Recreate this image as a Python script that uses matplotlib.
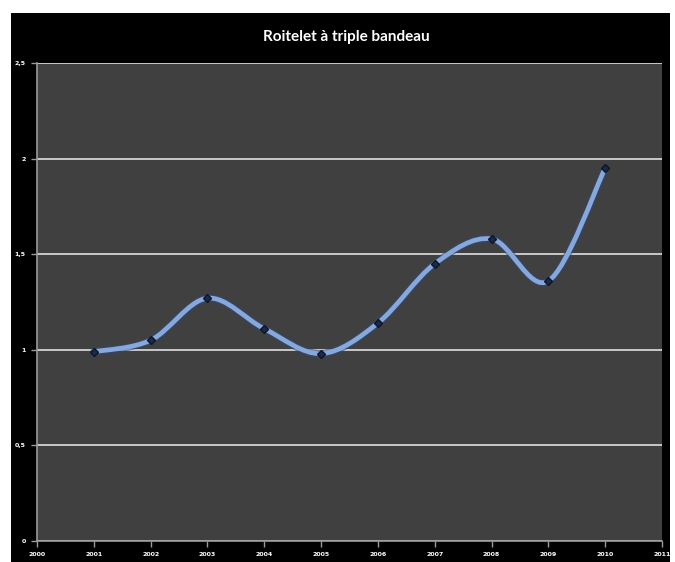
import numpy as np
import matplotlib.pyplot as plt
from matplotlib.path import Path
from matplotlib.patches import PathPatch, Rectangle
import matplotlib.patheffects as pe

years = [2001, 2002, 2003, 2004, 2005, 2006, 2007, 2008, 2009, 2010]
values = [0.99, 1.05, 1.27, 1.11, 0.98, 1.14, 1.45, 1.58, 1.36, 1.95]
title = "Roitelet à triple bandeau"
y_ticks = [0, 0.5, 1, 1.5, 2, 2.5]
y_labels = ["0", "0,5", "1", "1,5", "2", "2,5"]
x_ticks = list(range(2000, 2012))


def smooth_path(x, y, t=1 / 6):
    # Excel-like smoothed line: Catmull-Rom converted to cubic Bezier segments
    x = np.asarray(x, float)
    y = np.asarray(y, float)
    verts = [(x[0], y[0])]
    codes = [Path.MOVETO]
    n = len(x)
    for i in range(n - 1):
        i0 = max(i - 1, 0)
        i3 = min(i + 2, n - 1)
        c1 = (x[i] + (x[i + 1] - x[i0]) * t, y[i] + (y[i + 1] - y[i0]) * t)
        c2 = (x[i + 1] - (x[i3] - x[i]) * t, y[i + 1] - (y[i3] - y[i]) * t)
        verts += [c1, c2, (x[i + 1], y[i + 1])]
        codes += [Path.CURVE4] * 3
    return Path(verts, codes)


fig = plt.figure(figsize=(6.75, 5.62), dpi=100, facecolor="white")
fig.patches.append(Rectangle((11 / 675, 0), 659 / 675, 549 / 562, transform=fig.transFigure,
                             facecolor="black", edgecolor="none", zorder=-1))

ax = fig.add_axes([37 / 675, (562 - 541) / 562, 625 / 675, 478 / 562])
ax.set_facecolor("#404040")
ax.set_xlim(2000, 2011)
ax.set_ylim(0, 2.5)

ax.set_yticks(y_ticks)
ax.set_yticklabels(y_labels)
ax.set_xticks(x_ticks)
ax.grid(axis="y", color="#c8c8c8", linewidth=1.4)
ax.set_axisbelow(True)

for s in ["top", "right"]:
    ax.spines[s].set_visible(False)
ax.spines["left"].set_color("#9a9a9a")
ax.spines["bottom"].set_color("#9a9a9a")
ax.spines["left"].set_linewidth(1.2)
ax.spines["bottom"].set_linewidth(1.2)
ax.tick_params(axis="y", colors="#9a9a9a", labelcolor="white", length=4, width=1, labelsize=4.5, pad=4)
ax.tick_params(axis="x", colors="#9a9a9a", labelcolor="white", length=4, width=1, labelsize=4.5, pad=4)
for lab in ax.get_xticklabels() + ax.get_yticklabels():
    lab.set_fontweight("bold")

patch = PathPatch(smooth_path(years, values), facecolor="none", edgecolor="#86a8dc",
                  linewidth=3.4, capstyle="round", zorder=3,
                  path_effects=[pe.Stroke(linewidth=5.2, foreground="#2e4a7a", alpha=0.6), pe.Normal()])
ax.add_patch(patch)
ax.plot(years, values, linestyle="none", marker="D", markersize=4,
        color="#1a2a48", markeredgecolor="#0d1526", zorder=4)

fig.text(346 / 675, 1 - 37 / 562, title, color="white", fontsize=11, fontweight="bold",
         family="Lato", ha="center", va="center")

fig.savefig("out.png", dpi=100, facecolor="white")
